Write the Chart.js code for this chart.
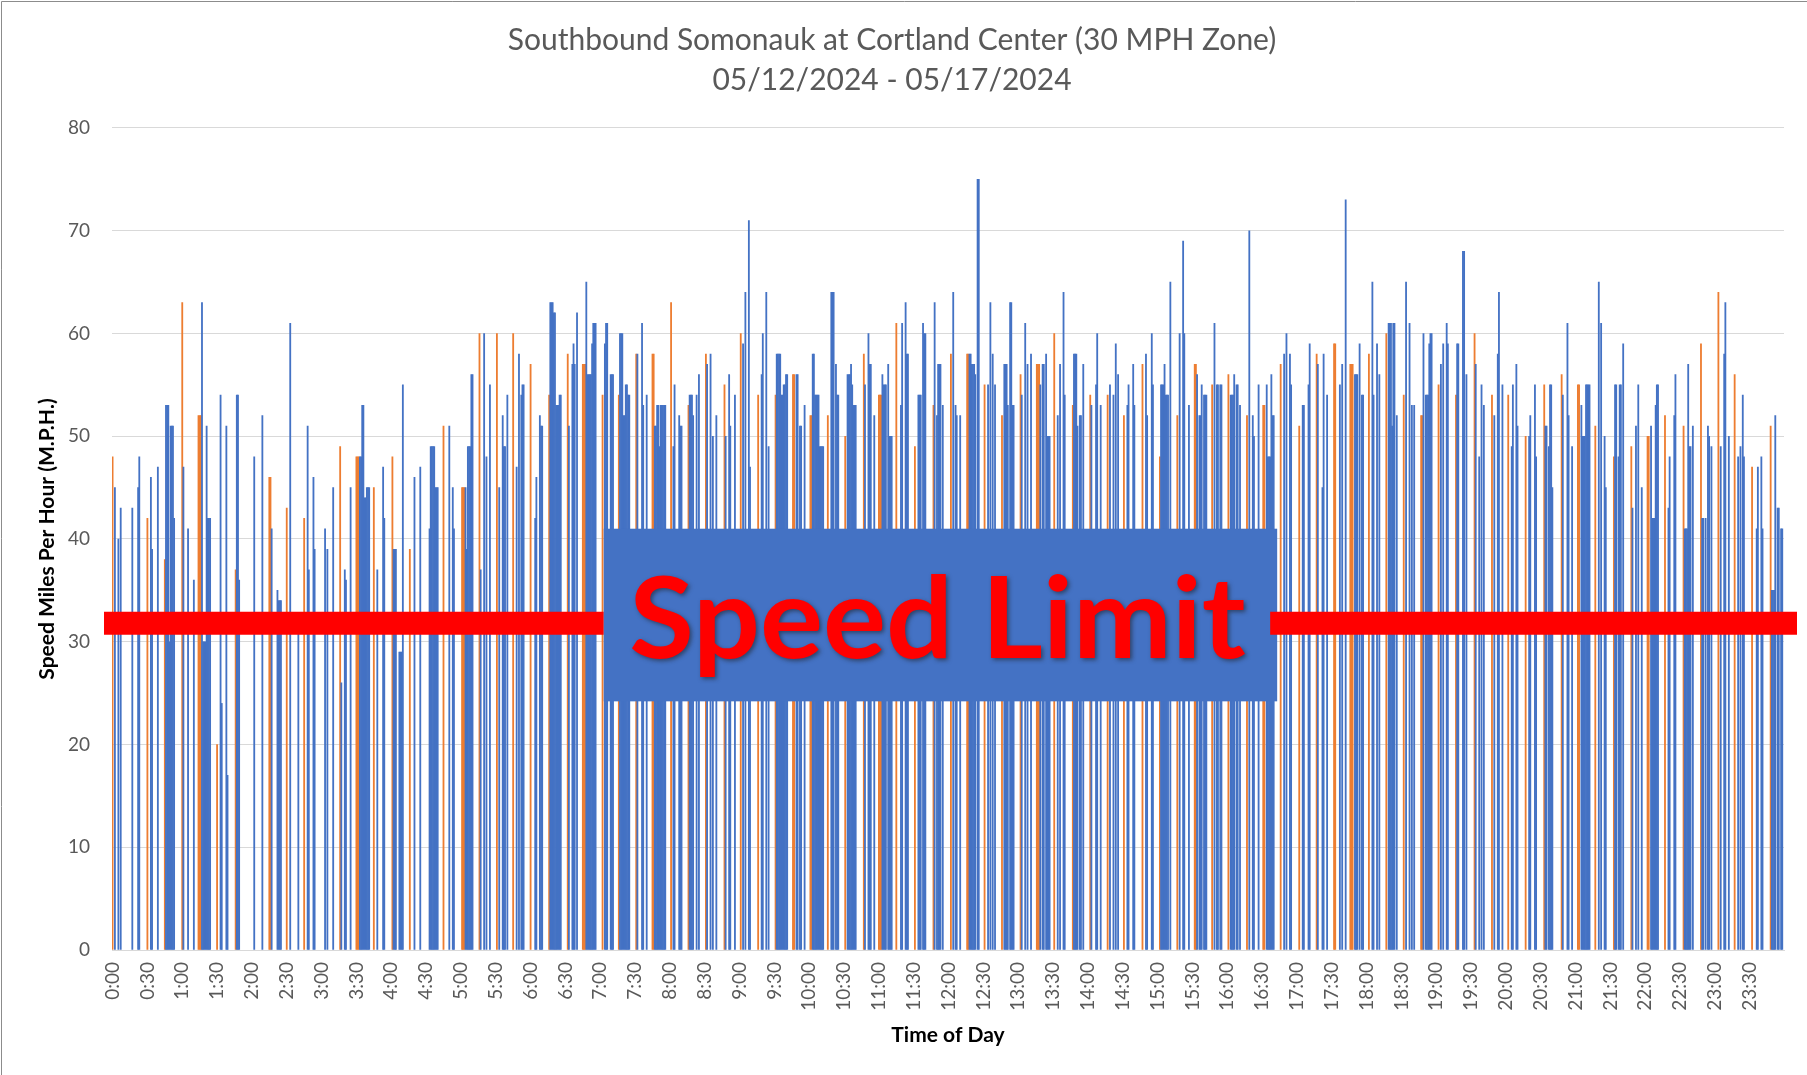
<!DOCTYPE html>
<html>
<head>
<meta charset="utf-8">
<title>Southbound Somonauk at Cortland Center</title>
<script src="https://cdn.jsdelivr.net/npm/chart.js@4.4.1/dist/chart.umd.min.js"></script>
<style>
  html, body { margin: 0; padding: 0; background: #fff; }
  #wrap { position: relative; width: 1807px; height: 1075px; }
</style>
</head>
<body>
<div id="wrap"><canvas id="speedChart"></canvas></div>
<script>
// [minute of day, speed in mph] - 0 is 0:00, 1439 is 23:59
const blueReadings = [
  [2,45],[5,40],[7,43],[17,43],[22,45],[23,48],[33,46],[34,39],[39,47],[46,53],[47,53],[48,53],[49,30],[50,51],[51,51],[52,51],[53,42],
  [61,47],[65,41],[70,36],[77,63],[78,30],[79,30],[80,30],[81,51],[82,42],[83,42],[84,42],[93,54],[94,24],[98,51],[99,17],[107,54],[108,54],[109,36],
  [122,48],[129,52],[137,41],[142,35],[143,34],[144,34],[145,34],[153,61],[160,31],[168,51],[169,37],[173,46],[174,39],[183,41],[185,39],[190,45],
  [197,26],[200,37],[201,36],[205,45],[213,48],[214,48],[215,53],[216,53],[217,44],[218,44],[219,45],[220,45],[221,45],[228,37],[233,47],[234,42],
  [242,39],[243,39],[244,39],[247,29],[248,29],[249,29],[250,55],[260,46],[265,47],[273,41],[274,49],[275,49],[276,49],[277,49],[278,45],[279,45],[280,45],
  [290,51],[293,45],[294,41],[304,45],[305,39],[306,49],[307,49],[308,49],[309,56],[310,56],[317,37],[320,60],[322,48],[325,55],[333,45],[336,52],[337,49],[338,49],
  [340,54],[348,47],[350,58],[352,54],[353,55],[354,55],[364,42],[365,46],[368,52],[369,51],[370,51],[377,63],[378,63],[379,63],[380,62],[381,62],[382,53],[383,53],
  [384,53],[385,54],[386,54],[393,51],[396,57],[397,59],[398,57],[400,62],[408,65],[409,56],[410,56],[411,56],[412,56],[413,59],[414,61],[415,61],[416,61],
  [424,59],[425,61],[426,61],[429,56],[430,56],[431,56],[437,60],[438,60],[439,60],[440,52],[441,52],[442,55],[443,55],[444,54],[445,54],[452,58],[456,61],[457,53],
  [460,54],[467,51],[468,51],[469,53],[470,53],[471,49],[472,53],[473,53],[474,53],[475,53],[476,53],[483,49],[484,55],[488,52],[489,51],[490,51],[497,54],[498,54],
  [499,54],[500,52],[503,54],[505,56],[512,57],[515,58],[517,50],[520,52],[528,50],[531,56],[532,51],[536,54],[543,59],[545,64],[548,71],[549,47],[559,56],[560,60],
  [563,64],[565,49],[572,58],[573,58],[574,58],[575,58],[576,54],[577,54],[578,55],[579,55],[580,56],[581,56],[589,56],[590,56],[592,51],[593,51],[596,53],
  [603,58],[604,58],[605,54],[606,54],[607,54],[608,54],[609,49],[610,49],[611,49],[612,49],[619,64],[620,64],[621,64],[623,57],[624,54],[625,54],
  [633,56],[634,56],[635,56],[636,57],[637,55],[638,53],[639,53],[640,53],[648,55],[651,60],[652,57],[653,57],[656,52],[663,56],[664,55],[665,55],[666,55],
  [668,57],[669,50],[670,50],[671,50],[679,53],[680,61],[683,63],[684,58],[685,58],[694,54],[695,54],[696,54],[698,61],[699,60],[700,60],[708,63],[710,52],
  [711,57],[712,57],[713,57],[715,53],[724,64],[726,53],[727,52],[730,52],[738,58],[739,58],[740,57],[741,57],[742,57],[743,56],[745,75],[746,75],[754,55],
  [756,63],[758,58],[760,55],[768,57],[769,57],[770,57],[771,53],[773,63],[774,63],[775,53],[776,53],[783,54],[786,61],[788,57],[791,58],[799,55],[801,57],
  [802,57],[804,58],[805,50],[806,50],[807,50],[814,52],[816,57],[819,64],[820,54],[828,58],[829,58],[830,58],[831,51],[833,52],[834,52],[836,57],[843,53],
  [847,55],[848,60],[851,53],[859,55],[862,54],[864,59],[866,56],[874,53],[875,55],[879,57],[880,53],[890,58],[891,52],[895,60],[896,55],[903,55],[904,55],
  [905,55],[906,57],[907,54],[908,54],[909,54],[911,65],[919,60],[922,69],[923,60],[927,53],[934,56],[936,52],[937,52],[938,55],[940,54],[941,54],[942,54],
  [949,61],[951,55],[952,55],[954,55],[955,55],[963,54],[964,54],[965,54],[966,56],[968,55],[969,55],[971,53],[979,70],[982,52],[983,50],[987,55],[994,55],
  [995,48],[996,48],[997,48],[998,56],[999,52],[1000,52],[1009,58],[1011,60],[1014,58],[1015,55],[1025,53],[1026,53],[1030,55],[1031,59],[1038,57],[1042,45],
  [1043,58],[1046,54],[1057,55],[1059,57],[1062,73],[1070,56],[1071,56],[1072,56],[1074,59],[1076,54],[1077,54],[1085,65],[1086,54],[1089,59],[1091,56],
  [1099,61],[1100,61],[1101,61],[1102,51],[1103,61],[1104,61],[1106,52],[1114,65],[1117,61],[1119,53],[1121,53],[1129,60],[1131,54],[1132,54],[1133,54],
  [1134,59],[1135,60],[1136,60],[1144,57],[1146,59],[1149,61],[1150,59],[1158,59],[1159,59],[1163,68],[1164,68],[1166,56],[1174,57],[1177,48],[1179,55],
  [1181,53],[1190,52],[1193,58],[1194,64],[1197,55],[1205,49],[1206,55],[1209,57],[1210,51],[1220,50],[1221,52],[1225,55],[1226,48],[1234,51],[1235,51],
  [1237,49],[1238,55],[1239,55],[1240,45],[1249,54],[1253,61],[1254,52],[1257,49],[1265,53],[1266,50],[1267,50],[1268,50],[1269,55],[1270,55],[1271,55],
  [1272,55],[1280,65],[1282,61],[1285,50],[1286,45],[1294,55],[1295,55],[1297,48],[1298,55],[1299,55],[1301,59],[1309,43],[1312,51],[1314,55],[1317,45],
  [1325,51],[1326,42],[1327,42],[1328,42],[1329,53],[1330,55],[1331,55],[1340,43],[1341,48],[1345,52],[1346,56],[1354,41],[1355,41],[1356,41],[1357,57],
  [1358,49],[1359,49],[1361,51],[1369,42],[1370,42],[1372,42],[1374,51],[1375,50],[1377,49],[1385,49],[1388,58],[1389,63],[1392,50],[1400,48],[1402,49],
  [1404,54],[1405,48],[1416,41],[1417,47],[1420,48],[1421,41],[1429,35],[1430,35],[1431,35],[1432,52],[1434,43],[1435,43],[1437,41],[1438,41]
];
const orangeReadings = [
  [0,48],[30,42],[45,38],[60,63],[74,52],[75,52],[76,52],[90,20],[106,37],[135,46],[136,46],[150,43],[165,42],[196,49],[210,48],[211,48],[212,48],[225,45],
  [241,48],[256,39],[285,51],[301,45],[302,45],[303,45],[316,60],[331,60],[345,60],[360,57],[376,54],[392,58],[405,57],[406,57],[407,57],[422,54],[436,54],
  [451,58],[465,58],[466,58],[481,63],[496,53],[511,58],[527,55],[541,60],[556,54],[571,54],[586,56],[587,56],[601,52],[602,52],[616,52],[631,50],[647,58],
  [660,54],[661,54],[662,54],[675,61],[691,49],[707,53],[722,58],[736,58],[737,58],[751,55],[766,52],[782,56],[796,57],[797,57],[798,57],[811,60],[827,53],
  [842,54],[857,54],[871,52],[887,57],[902,48],[917,52],[932,57],[933,57],[947,55],[961,56],[977,52],[991,53],[992,53],[1006,57],[1022,51],[1037,58],
  [1052,59],[1053,59],[1066,57],[1067,57],[1068,57],[1082,58],[1097,60],[1112,54],[1127,52],[1128,52],[1142,55],[1157,54],[1173,60],[1188,54],[1202,54],
  [1217,50],[1233,55],[1248,56],[1262,55],[1263,55],[1277,51],[1293,48],[1308,49],[1322,50],[1323,50],[1337,52],[1353,51],[1368,59],[1383,64],[1397,56],
  [1412,47],[1428,51]
];
const titleLines = ['Southbound Somonauk at Cortland Center (30 MPH Zone)', '05/12/2024 - 05/17/2024'];
const speedMin = 0, speedMax = 80, speedStep = 10;
const minutesPerDay = 1440;
const labelEveryMinutes = 30;

// the hand drawn "Speed Limit" callout laid over the bars
const limitLineLevel = 31.8;
const calloutText = 'Speed Limit';
const calloutFromMinute = 423, calloutToMinute = 1003;
const calloutTop = 41, calloutBottom = 24.2;

const timeLabels = [];
for (let m = 0; m < minutesPerDay; m++) {
  timeLabels.push(Math.floor(m / 60) + ':' + String(m % 60).padStart(2, '0'));
}

function toSeries(readings) {
  const out = new Array(minutesPerDay).fill(null);
  readings.forEach(function (r) { out[r[0]] = r[1]; });
  return out;
}

const calloutPlugin = {
  id: 'speedLimitCallout',
  afterDatasetsDraw(chart) {
    const ctx = chart.ctx;
    const area = chart.chartArea;
    const x = chart.scales.x, y = chart.scales.y;
    const lineY = y.getPixelForValue(limitLineLevel);
    const bl = x.getPixelForValue(calloutFromMinute);
    const br = x.getPixelForValue(calloutToMinute);
    const bt = y.getPixelForValue(calloutTop);
    const bb = y.getPixelForValue(calloutBottom);
    ctx.save();
    ctx.fillStyle = '#FF0000';
    ctx.fillRect(area.left - 8, lineY - 11.5, bl - area.left + 8, 23);
    ctx.fillStyle = '#4472C4';
    ctx.fillRect(bl, bt, br - bl, bb - bt);
    ctx.fillStyle = '#FF0000';
    ctx.fillRect(br - 7, lineY - 11.5, area.right + 13 - br + 7, 23);

    const h = bb - bt;
    const fontSize = Math.round(h * 0.47 / 0.7165);
    ctx.font = 'bold ' + fontSize + 'px Lato';
    const w = ctx.measureText(calloutText).width;
    const sx = ((br - bl) * 0.915) / w;
    ctx.translate((bl + br) / 2 - 3, bt + h * 0.75);
    ctx.scale(sx, 1);
    ctx.textAlign = 'center';
    ctx.textBaseline = 'alphabetic';
    ctx.shadowColor = 'rgba(30,30,30,0.55)';
    ctx.shadowBlur = 4;
    ctx.shadowOffsetX = 2;
    ctx.shadowOffsetY = 2;
    ctx.fillText(calloutText, 0, 0);
    ctx.restore();
  },
  afterDraw(chart) {
    const ctx = chart.ctx;
    ctx.save();
    ctx.strokeStyle = '#8c8c8c';
    ctx.lineWidth = 1;
    ctx.beginPath();
    ctx.moveTo(1.5, chart.height);
    ctx.lineTo(1.5, 1.5);
    ctx.lineTo(chart.width, 1.5);
    ctx.stroke();
    ctx.restore();
  }
};

const ctx = document.getElementById('speedChart');
new Chart(ctx, {
  type: 'bar',
  data: {
    labels: timeLabels,
    datasets: [{
      label: 'Speed',
      data: toSeries(blueReadings),
      backgroundColor: '#4472C4',
      borderWidth: 0,
      categoryPercentage: 1,
      barPercentage: 1
    }, {
      label: 'Speed (quarter hour)',
      data: toSeries(orangeReadings),
      backgroundColor: '#ED7D31',
      borderWidth: 0,
      categoryPercentage: 1,
      barPercentage: 1
    }]
  },
  options: {
    responsive: true,
    maintainAspectRatio: false,
    animation: false,
    layout: { padding: { left: 0, right: 23, top: 0, bottom: 0 } },
    plugins: {
      legend: { display: false },
      tooltip: { enabled: false },
      title: {
        display: true,
        text: titleLines,
        color: '#595959',
        font: { family: 'Lato', size: 30, weight: 'normal', lineHeight: 1.333 },
        padding: { top: 20, bottom: 28 }
      }
    },
    scales: {
      x: {
        stacked: true,
        grid: { display: false },
        border: { display: true, color: '#D9D9D9', width: 1 },
        ticks: {
          autoSkip: false,
          minRotation: 90,
          maxRotation: 90,
          padding: 4,
          color: '#595959',
          font: { family: 'Lato', size: 19 },
          callback: function (value, index) {
            return index % labelEveryMinutes === 0 ? this.getLabelForValue(value) : null;
          }
        },
        title: {
          display: true,
          text: 'Time of Day',
          color: '#000000',
          font: { family: 'Lato', size: 21, weight: 'bold', lineHeight: 1.2 },
          padding: { top: 0, bottom: 27 }
        },
        afterFit: function (scale) { scale.height = 125; }
      },
      y: {
        min: speedMin,
        max: speedMax,
        grid: { color: '#D9D9D9', lineWidth: 1, drawTicks: false },
        border: { display: false },
        ticks: {
          stepSize: speedStep,
          padding: 22,
          color: '#595959',
          font: { family: 'Lato', size: 19 }
        },
        title: {
          display: true,
          text: 'Speed Miles Per Hour (M.P.H.)',
          color: '#000000',
          font: { family: 'Lato', size: 21, weight: 'bold', lineHeight: 1.2 },
          padding: { top: 35, bottom: 0 }
        },
        afterFit: function (scale) { scale.width = 112; }
      }
    }
  },
  plugins: [calloutPlugin]
});
</script>
</body>
</html>
